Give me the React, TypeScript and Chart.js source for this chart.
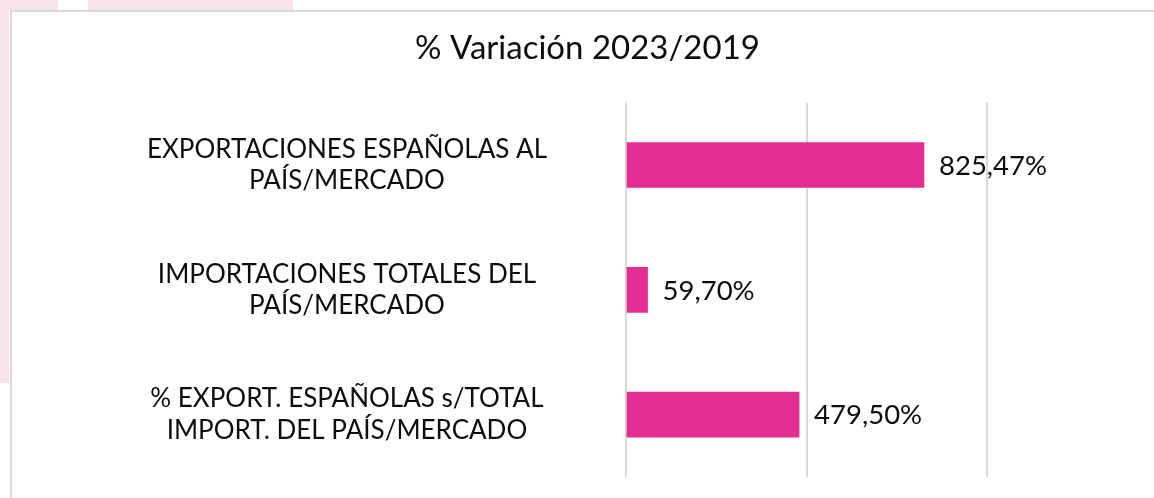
import React, { useEffect, useRef } from "react";
import { Chart, registerables } from "chart.js";

Chart.register(...registerables);

const categories: string[][] = [
  ["EXPORTACIONES ESPAÑOLAS AL", "PAÍS/MERCADO"],
  ["IMPORTACIONES TOTALES DEL", "PAÍS/MERCADO"],
  ["% EXPORT. ESPAÑOLAS s/TOTAL", "IMPORT. DEL PAÍS/MERCADO"],
];
const variationValues: number[] = [825.47, 59.7, 479.5];
const xTicks: number[] = [0, 500, 1000];
const chartTitle = "% Variación 2023/2019";

const FONT = "Lato, 'Open Sans', sans-serif";
const TEXT = "#0d0d0d";
const BAR = "#E42D91";

const fmt = (v: number) => v.toFixed(2).replace(".", ",") + "%";

const valueLabelPlugin = {
  id: "valueLabels",
  afterLayout(chart: any) {
    // let the category labels extend left beyond the axis box without clipping
    if (chart.scales.y) chart.scales.y.left = 0;
  },
  afterDatasetsDraw(chart: any) {
    const { ctx } = chart;
    const meta = chart.getDatasetMeta(0);
    ctx.save();
    ctx.font = `27.5px ${FONT}`;
    ctx.fillStyle = TEXT;
    ctx.textAlign = "left";
    ctx.textBaseline = "middle";
    meta.data.forEach((bar: any, i: number) => {
      ctx.fillText(fmt(variationValues[i]), bar.x + 15, bar.y + 1);
    });
    ctx.restore();
  },
};

export default function App() {
  const ref = useRef<HTMLCanvasElement>(null);
  useEffect(() => {
    if (!ref.current) return;
    const chart = new Chart(ref.current, {
      type: "bar",
      data: {
        labels: categories,
        datasets: [
          {
            data: variationValues,
            backgroundColor: BAR,
            borderWidth: 0,
            barThickness: 45,
          },
        ],
      },
      options: {
        indexAxis: "y",
        animation: false,
        responsive: false,
        devicePixelRatio: 1,
        layout: { padding: { top: 0, bottom: 21, left: 188, right: 167 } },
        plugins: {
          legend: { display: false },
          tooltip: { enabled: false },
          title: {
            display: true,
            text: chartTitle,
            color: TEXT,
            font: { family: FONT, size: 33, weight: "normal", lineHeight: 1.2 },
            padding: { top: 29, bottom: 34 },
          },
        },
        scales: {
          x: {
            min: xTicks[0],
            max: xTicks[xTicks.length - 1],
            afterBuildTicks: (scale: any) => {
              scale.ticks = xTicks.map((v) => ({ value: v }));
            },
            afterFit: (scale: any) => {
              scale.paddingLeft = 0;
              scale.paddingRight = 0;
            },
            ticks: { display: false },
            grid: { color: "#d9d9d9", lineWidth: 2, drawTicks: false },
            border: { display: false },
          },
          y: {
            afterFit: (scale: any) => {
              scale.width = 438;
              scale.paddingTop = 0;
              scale.paddingBottom = 0;
            },
            grid: { display: false, drawTicks: false },
            border: { display: false },
            ticks: {
              crossAlign: "center",
              padding: 79,
              color: TEXT,
              font: { family: FONT, size: 26, lineHeight: 1.2 },
            },
          },
        },
      },
      plugins: [valueLabelPlugin],
    } as any);
    return () => chart.destroy();
  }, []);

  return (
    <div
      style={{
        position: "fixed",
        left: 0,
        top: 0,
        width: 1154,
        height: 498,
        background: "#ffffff",
        overflow: "hidden",
      }}
    >
      <div style={{ position: "absolute", left: 0, top: 0, width: 58, height: 10, background: "#fbe3ee" }} />
      <div style={{ position: "absolute", left: 88, top: 0, width: 205, height: 10, background: "#fbe3ee" }} />
      <div style={{ position: "absolute", left: 0, top: 0, width: 9, height: 383, background: "#fbe3ee" }} />
      <div
        style={{
          position: "absolute",
          left: 10,
          top: 10,
          width: 1160,
          height: 500,
          borderLeft: "2px solid #d9d9d9",
          borderTop: "2px solid #d9d9d9",
          background: "#ffffff",
        }}
      />
      <canvas
        ref={ref}
        width={1154}
        height={498}
        style={{ position: "absolute", left: 0, top: 0, width: 1154, height: 498 }}
      />
    </div>
  );
}
